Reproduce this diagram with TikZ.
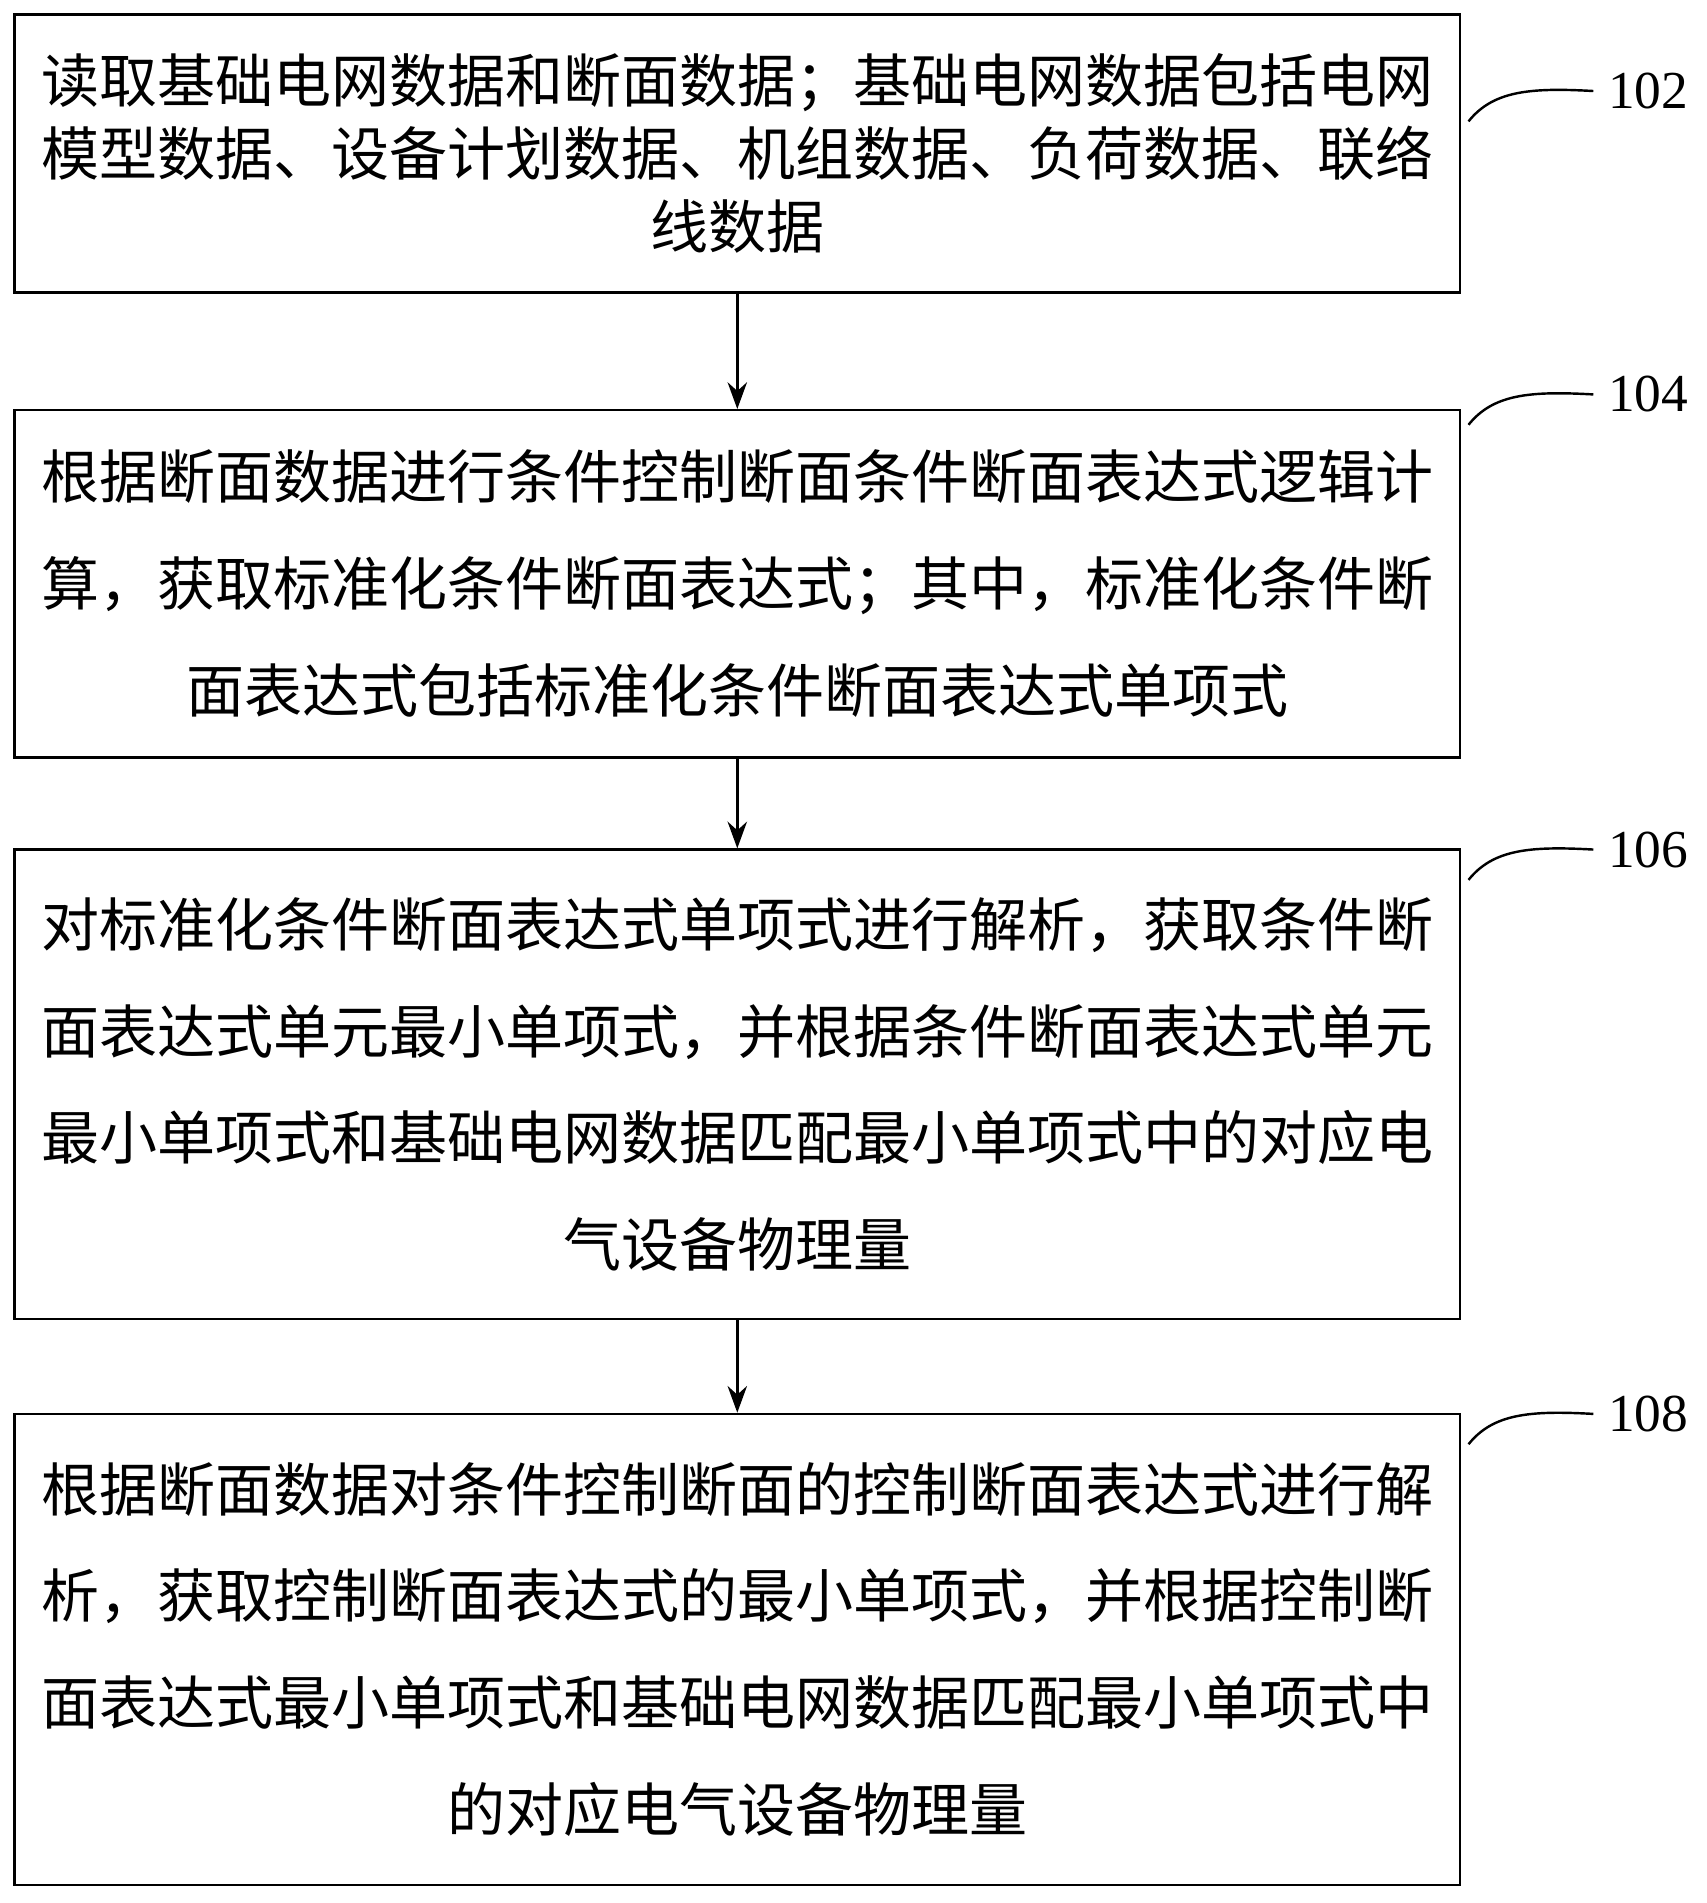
\documentclass[tikz,border=0pt]{standalone}
\usepackage{fontspec}
\usetikzlibrary{arrows.meta}
\newfontfamily\cjk{Noto Sans CJK SC}
\setmainfont{Liberation Serif}
\begin{document}
\begin{tikzpicture}[x=1pt,y=-1pt,
  stepbox/.style={draw,line width=2pt,minimum width=1191pt,align=center,inner sep=0pt,text width=1180pt},
  lbl/.style={font=\fontsize{44}{44}\selectfont},
  arr/.style={-{Stealth[length=22pt,width=16pt]},line width=2pt}]
\useasboundingbox (0,0) rectangle (1406,1568);
\node[stepbox,minimum height=229pt,font=\cjk\fontsize{47.8}{60}\selectfont] (b1) at (607.5,126.5) {读取基础电网数据和断面数据；基础电网数据包括电网\\模型数据、设备计划数据、机组数据、负荷数据、联络\\线数据};
\node[stepbox,minimum height=286pt,font=\cjk\fontsize{47.8}{88}\selectfont] (b2) at (607.5,481) {根据断面数据进行条件控制断面条件断面表达式逻辑计\\算，获取标准化条件断面表达式；其中，标准化条件断\\面表达式包括标准化条件断面表达式单项式};
\node[stepbox,minimum height=387pt,font=\cjk\fontsize{47.8}{88}\selectfont] (b3) at (607.5,893.5) {对标准化条件断面表达式单项式进行解析，获取条件断\\面表达式单元最小单项式，并根据条件断面表达式单元\\最小单项式和基础电网数据匹配最小单项式中的对应电\\气设备物理量};
\node[stepbox,minimum height=388pt,font=\cjk\fontsize{47.8}{88}\selectfont] (b4) at (607.5,1359) {根据断面数据对条件控制断面的控制断面表达式进行解\\析，获取控制断面表达式的最小单项式，并根据控制断\\面表达式最小单项式和基础电网数据匹配最小单项式中\\的对应电气设备物理量};
\draw[arr] (b1.south) -- (b2.north);
\draw[arr] (b2.south) -- (b3.north);
\draw[arr] (b3.south) -- (b4.north);
\foreach \n/\y/\t in {l1/75/102, l2/325/104, l3/700/106, l4/1165/108}{
  \node[lbl,inner sep=12pt] (\n) at (1358,\y) {\t};
  \coordinate (s\n) at (1210,\y+25);
  \draw[line width=2pt] (s\n) .. controls (1230,\y) and (1260,\y-3) .. (\n.west);
}
\end{tikzpicture}
\end{document}
